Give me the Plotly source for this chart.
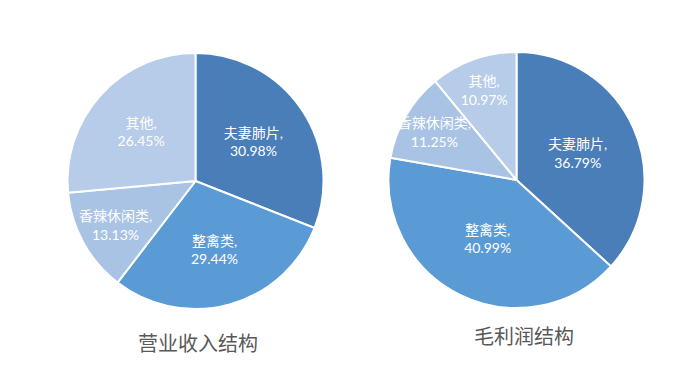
import plotly.graph_objects as go

categories = ["夫妻肺片", "整禽类", "香辣休闲类", "其他"]
revenue_share = [30.98, 29.44, 13.13, 26.45]
profit_share = [36.79, 40.99, 11.25, 10.97]
titles = ["营业收入结构", "毛利润结构"]
colors = ["#4a7eb9", "#5b9bd5", "#a9c3e4", "#b6cce8"]

W, H = 694, 372
FONT = "Lato, 'Noto Sans CJK SC', sans-serif"

def dom(cx, cy, r):
    return dict(x=[(cx - r) / W, (cx + r) / W], y=[(H - cy - r) / H, (H - cy + r) / H])

fig = go.Figure()
for vals, (cx, cy) in [(revenue_share, (195.5, 181)), (profit_share, (516.5, 180))]:
    fig.add_trace(go.Pie(
        labels=categories, values=vals, sort=False, direction="clockwise", rotation=0,
        marker=dict(colors=colors, line=dict(color="white", width=2)),
        texttemplate="%{label},<br>%{value:.2f}%", textinfo="text",
        textposition="inside", insidetextorientation="horizontal",
        textfont=dict(color="white", size=14, family=FONT),
        domain=dom(cx, cy, 128), showlegend=False, hoverinfo="label+value",
    ))

for t, x, y in [(titles[0], 197.5, 342), (titles[1], 524, 335)]:
    fig.add_annotation(text=t, x=x / W, y=1 - y / H, xref="paper", yref="paper",
                       xanchor="center", yanchor="middle", showarrow=False,
                       font=dict(size=20, color="#595959", family="'Noto Sans CJK SC'"))

fig.update_layout(width=W, height=H, margin=dict(l=0, r=0, t=0, b=0),
                  paper_bgcolor="white", plot_bgcolor="white",
                  uniformtext=dict(minsize=14, mode="show"))
fig.write_html("out.html", config={"displayModeBar": False},
               post_script="document.body.style.margin='0';")
